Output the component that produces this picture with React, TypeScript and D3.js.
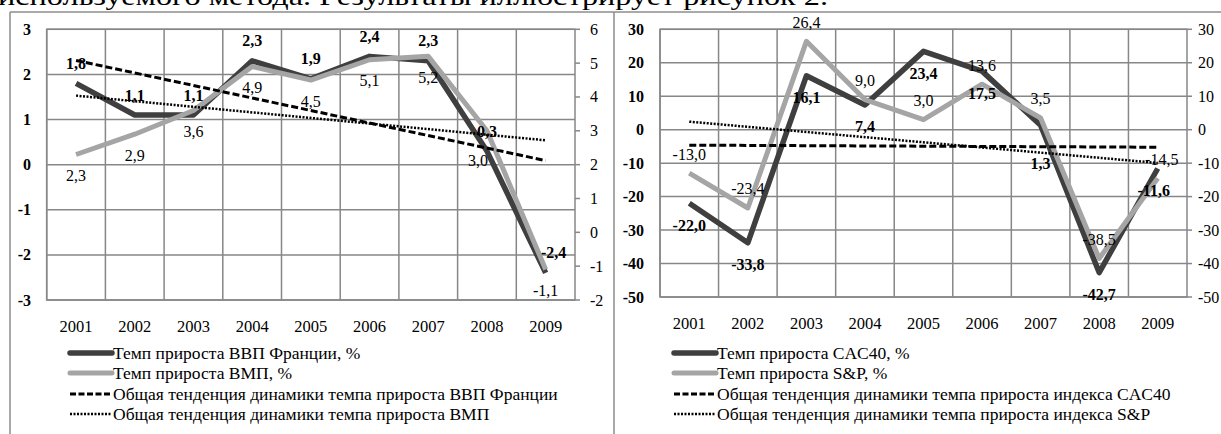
import React from "react";
import * as d3 from "d3";

// ---------- data ----------
const years = ["2001", "2002", "2003", "2004", "2005", "2006", "2007", "2008", "2009"];

// left panel
const gdpFrance = [1.8, 1.1, 1.1, 2.3, 1.9, 2.4, 2.3, 0.3, -2.4];
const vmpGrowth = [2.3, 2.9, 3.6, 4.9, 4.5, 5.1, 5.2, 3.0, -1.1];
const gdpTrendEnds = [2.31, 0.09]; // 2001, 2009 (left axis)
const vmpTrendEnds = [4.04, 2.72]; // 2001, 2009 (right axis)
const leftPanelLeftTicks = [-3, -2, -1, 0, 1, 2, 3];
const leftPanelRightTicks = [-2, -1, 0, 1, 2, 3, 4, 5, 6];
const leftLegend = [
  "Темп прироста ВВП Франции, %",
  "Темп прироста ВМП, %",
  "Общая тенденция динамики темпа прироста ВВП Франции",
  "Общая тенденция динамики темпа прироста ВМП",
];

// right panel
const cac40 = [-22.0, -33.8, 16.1, 7.4, 23.4, 17.5, 1.3, -42.7, -11.6];
const sp500 = [-13.0, -23.4, 26.4, 9.0, 3.0, 13.6, 3.5, -38.5, -14.5];
const cacTrendEnds = [-4.62, -5.24];
const spTrendEnds = [2.4, -9.94];
const rightPanelTicks = [-50, -40, -30, -20, -10, 0, 10, 20, 30];
const rightLegend = [
  "Темп прироста CAC40, %",
  "Темп прироста S&P, %",
  "Общая тенденция динамики темпа прироста индекса CAC40",
  "Общая тенденция динамики темпа прироста индекса S&P",
];

const topText = "используемого метода. Результаты иллюстрирует рисунок 2.";

// ---------- styles ----------
const FONT = "'Liberation Serif', 'Times New Roman', serif";
const DARK = "#3f3f3f";
const LIGHT = "#a5a5a5";
const GRID = "#878787";
const FRAME = "#8c8c8c";

const fmt = (v: number) => d3.format(".1f")(v).replace(".", ",").replace("\u2212", "-");

type Nudge = { [i: number]: [number, number] };

type PanelCfg = {
  x0: number;
  x1: number;
  y0: number;
  y1: number;
  leftDomain: [number, number];
  rightDomain: [number, number];
  leftTicks: number[];
  rightTicks: number[];
  leftLabelX: number;
  rightLabelX: number;
  dark: number[];
  light: number[];
  darkOnRight: boolean;
  lightOnRight: boolean;
  darkLabelDy: number;
  lightLabelDy: number;
  darkNudge: Nudge;
  lightNudge: Nudge;
  darkTrend: number[];
  lightTrend: number[];
  legend: string[];
  legendX: number;
};

const leftCfg: PanelCfg = {
  x0: 46.7,
  x1: 575,
  y0: 29.3,
  y1: 300,
  leftDomain: [-3, 3],
  rightDomain: [-2, 6],
  leftTicks: leftPanelLeftTicks,
  rightTicks: leftPanelRightTicks,
  leftLabelX: 31,
  rightLabelX: 590,
  dark: gdpFrance,
  light: vmpGrowth,
  darkOnRight: false,
  lightOnRight: true,
  darkLabelDy: -20,
  lightLabelDy: 21,
  darkNudge: { 8: [8, 0] },
  lightNudge: { 7: [-9, 9] },
  darkTrend: gdpTrendEnds,
  lightTrend: vmpTrendEnds,
  legend: leftLegend,
  legendX: 70,
};

const rightCfg: PanelCfg = {
  x0: 660,
  x1: 1187,
  y0: 29.3,
  y1: 297,
  leftDomain: [-50, 30],
  rightDomain: [-50, 30],
  leftTicks: rightPanelTicks,
  rightTicks: rightPanelTicks,
  leftLabelX: 644,
  rightLabelX: 1198,
  dark: cac40,
  light: sp500,
  darkOnRight: false,
  lightOnRight: true,
  darkLabelDy: 22,
  lightLabelDy: -19,
  darkNudge: { 6: [0, 16], 8: [-4, 0] },
  lightNudge: { 8: [4, 0] },
  darkTrend: cacTrendEnds,
  lightTrend: spTrendEnds,
  legend: rightLegend,
  legendX: 674,
};

function Panel({ c }: { c: PanelCfg }) {
  const x = d3.scaleBand<string>().domain(years).range([c.x0, c.x1]).padding(0);
  const cx = (yr: string) => (x(yr) as number) + x.bandwidth() / 2;
  const yL = d3.scaleLinear().domain(c.leftDomain).range([c.y1, c.y0]);
  const yR = d3.scaleLinear().domain(c.rightDomain).range([c.y1, c.y0]);
  const yDark = c.darkOnRight ? yR : yL;
  const yLight = c.lightOnRight ? yR : yL;

  const lineGen = (ys: d3.ScaleLinear<number, number>) =>
    d3
      .line<number>()
      .x((_, i) => cx(years[i]))
      .y((v) => ys(v));

  const trendLine = (ends: number[], ys: d3.ScaleLinear<number, number>) =>
    d3
      .line<number>()
      .x((_, i) => cx(years[i === 0 ? 0 : years.length - 1]))
      .y((v) => ys(v))(ends) as string;

  const legendRowsY = [353, 373, 394, 414];

  return (
    <g>
      {c.leftTicks.map((t) => (
        <line key={"h" + t} x1={c.x0} x2={c.x1} y1={yL(t)} y2={yL(t)} stroke={GRID} strokeWidth={1.5} />
      ))}
      {years.map((yr) => (
        <line key={"v" + yr} x1={x(yr)} x2={x(yr)} y1={c.y0} y2={c.y1} stroke={GRID} strokeWidth={1.5} />
      ))}
      <rect x={c.x0} y={c.y0} width={c.x1 - c.x0} height={c.y1 - c.y0} fill="none" stroke={GRID} strokeWidth={1.5} />
      {c.rightTicks.map((t) => (
        <line key={"rt" + t} x1={c.x1} x2={c.x1 + 5} y1={yR(t)} y2={yR(t)} stroke={GRID} strokeWidth={1.5} />
      ))}
      {c.leftTicks.map((t) => (
        <text
          key={"ll" + t}
          x={c.leftLabelX}
          y={yL(t)}
          textAnchor="end"
          dominantBaseline="central"
          fontFamily={FONT}
          fontWeight="bold"
          fontSize={16}
          fill="#000"
        >
          {String(t)}
        </text>
      ))}
      {c.rightTicks.map((t) => (
        <text
          key={"rl" + t}
          x={c.rightLabelX}
          y={yR(t)}
          textAnchor="start"
          dominantBaseline="central"
          fontFamily={FONT}
          fontSize={16}
          fill="#000"
        >
          {String(t)}
        </text>
      ))}
      {years.map((yr) => (
        <text
          key={"x" + yr}
          x={cx(yr)}
          y={c.y1 + 26}
          textAnchor="middle"
          dominantBaseline="central"
          fontFamily={FONT}
          fontSize={16.5}
          fill="#000"
        >
          {yr}
        </text>
      ))}
      <path d={lineGen(yDark)(c.dark) as string} fill="none" stroke={DARK} strokeWidth={5.5} strokeLinejoin="round" />
      <path d={lineGen(yLight)(c.light) as string} fill="none" stroke={LIGHT} strokeWidth={5} strokeLinejoin="round" />
      {c.dark.map((v, i) => {
        const n = c.darkNudge[i] || [0, 0];
        return (
          <text
            key={"dl" + i}
            x={cx(years[i]) + n[0]}
            y={yDark(v) + c.darkLabelDy + n[1]}
            textAnchor="middle"
            dominantBaseline="central"
            fontFamily={FONT}
            fontWeight="bold"
            fontSize={16}
            fill="#000"
          >
            {fmt(v)}
          </text>
        );
      })}
      {c.light.map((v, i) => {
        const n = c.lightNudge[i] || [0, 0];
        return (
          <text
            key={"ll2" + i}
            x={cx(years[i]) + n[0]}
            y={yLight(v) + c.lightLabelDy + n[1]}
            textAnchor="middle"
            dominantBaseline="central"
            fontFamily={FONT}
            fontSize={16}
            fill="#000"
          >
            {fmt(v)}
          </text>
        );
      })}
      <path d={trendLine(c.darkTrend, yL)} fill="none" stroke="#000" strokeWidth={3} strokeDasharray="7,3" />
      <path d={trendLine(c.lightTrend, c.lightOnRight ? yR : yL)} fill="none" stroke="#000" strokeWidth={2.5} strokeDasharray="2,1.5" />
      {c.legend.map((txt, i) => {
        const ly = legendRowsY[i];
        const sx0 = c.legendX;
        const sx1 = c.legendX + 42;
        let sym;
        if (i === 0) sym = <line x1={sx0} x2={sx1} y1={ly} y2={ly} stroke={DARK} strokeWidth={5.5} strokeLinecap="round" />;
        else if (i === 1) sym = <line x1={sx0} x2={sx1} y1={ly} y2={ly} stroke={LIGHT} strokeWidth={5} strokeLinecap="round" />;
        else if (i === 2) sym = <line x1={sx0} x2={sx1} y1={ly} y2={ly} stroke="#000" strokeWidth={3} strokeDasharray="6,2.5" />;
        else sym = <line x1={sx0} x2={sx1} y1={ly} y2={ly} stroke="#000" strokeWidth={2.5} strokeDasharray="2,1.5" />;
        return (
          <g key={"lg" + i}>
            {sym}
            <text x={sx1 + 1} y={ly} dominantBaseline="central" fontFamily={FONT} fontSize={17.5} fill="#000">
              {txt}
            </text>
          </g>
        );
      })}
    </g>
  );
}

export default function App() {
  return (
    <div style={{ position: "fixed", left: 0, top: 0, width: 1221, height: 434, background: "#fff" }}>
      <svg width={1221} height={434} viewBox="0 0 1221 434" style={{ display: "block" }}>
        <rect x={0} y={0} width={1221} height={434} fill="#fff" />
        <text x={-2} y={5} fontFamily={FONT} fontSize={26} fill="#000" textLength={830} lengthAdjust="spacingAndGlyphs">
          {topText}
        </text>
        <line x1={10} x2={10} y1={12} y2={434} stroke={FRAME} strokeWidth={1.5} />
        <line x1={10} x2={1221} y1={12} y2={12} stroke={FRAME} strokeWidth={1.5} />
        <line x1={614} x2={614} y1={12} y2={434} stroke={FRAME} strokeWidth={1.5} />
        <Panel c={leftCfg} />
        <Panel c={rightCfg} />
      </svg>
    </div>
  );
}
